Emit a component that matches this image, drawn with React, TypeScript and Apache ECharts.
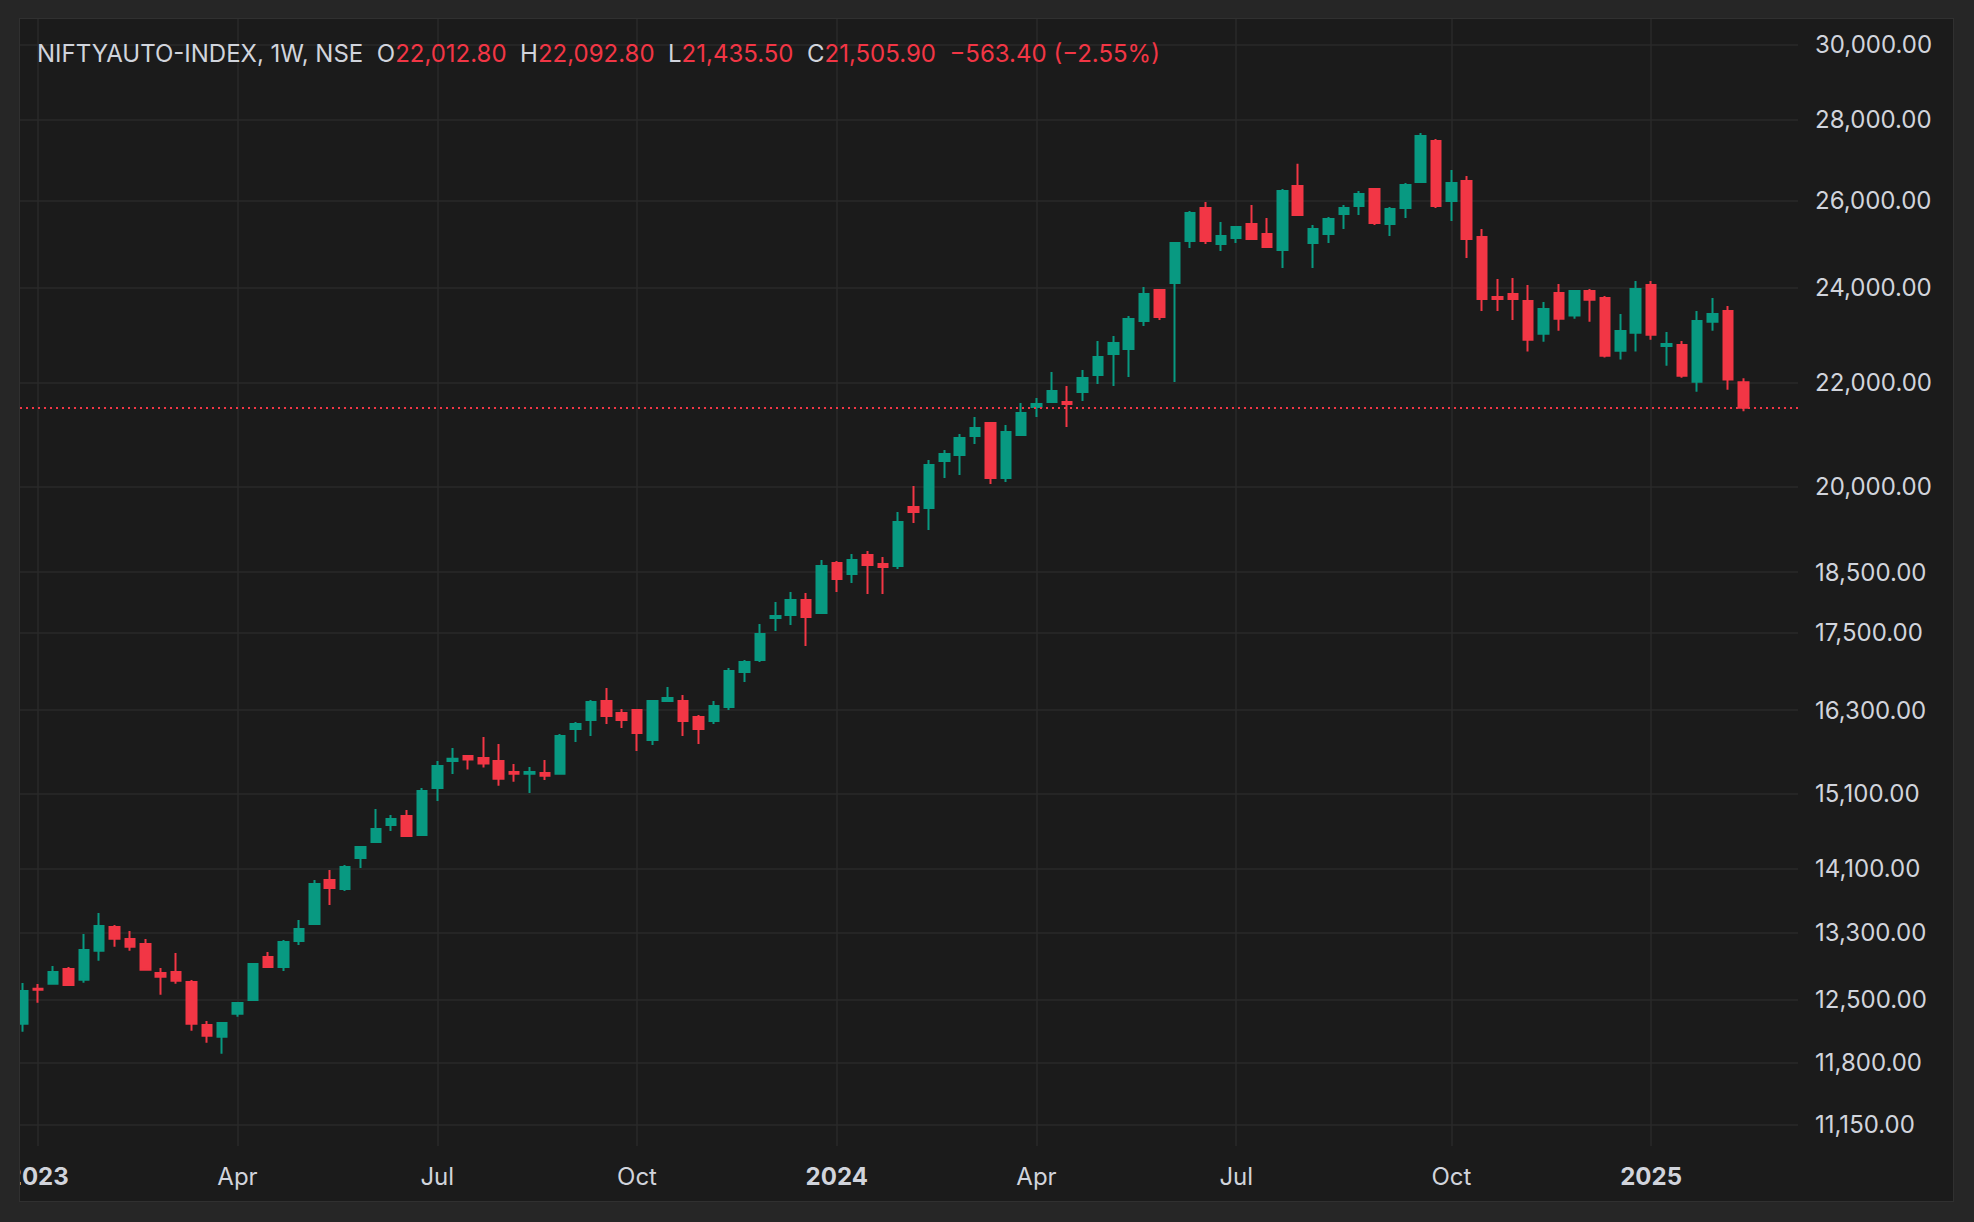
import React, { useEffect, useRef } from 'react';
import * as echarts from 'echarts';

// Weekly candles, index 0 = week of 26 Dec 2022 ... index 112 = week of 17 Feb 2025
const opens = [
  12231, 12630, 12688, 12860, 12735, 13078, 13365, 13218, 13158, 12813,
  12825, 12708, 12217, 12087, 12344, 12500, 13002, 12884, 13194, 13401,
  13952, 13838, 14236, 14447, 14673, 14795, 14539, 15180, 15560, 15632,
  15603, 15560, 15404, 15380, 15390, 15380, 16023, 16156, 16439, 16260,
  16305, 15862, 16439, 16439, 16200, 16141, 16349, 16881, 17068, 17738,
  17787, 18033, 17819, 18655, 18468, 18792, 18638, 18604, 19637, 19619,
  20482, 20595, 20957, 21208, 20166, 20975, 21520, 21618, 21618, 21817,
  22160, 22590, 22696, 23285, 23956, 24110, 25055, 25824, 24987, 25124,
  25449, 25216, 24850, 26350, 25010, 25216, 25683, 25872, 26278, 25449,
  25824, 26446, 27459, 25990, 26471, 25147, 23803, 23868, 23716, 23016,
  23890, 23399, 23934, 23781, 22660, 23037, 24066, 22758, 22777, 22024,
  23269, 23497, 22012.8,
];
const highs = [
  12696, 12685, 12896, 12884, 13279, 13537, 13389, 13316, 13218, 12872,
  13050, 12731, 12262, 12250, 12477, 12931, 13062, 13206, 13451, 13952,
  14081, 14145, 14394, 14890, 14808, 14876, 15179, 15560, 15746, 15640,
  15906, 15804, 15518, 15475, 15575, 15950, 16126, 16455, 16636, 16319,
  16310, 16455, 16652, 16530, 16230, 16439, 16943, 17068, 17640, 18000,
  18166, 18149, 18706, 18689, 18809, 18861, 18758, 19547, 20018, 20501,
  20690, 20995, 21325, 21215, 21169, 21599, 21698, 22221, 21938, 22262,
  22861, 22966, 23392, 24022, 23978, 25033, 25754, 25967, 25495, 25402,
  25895, 25589, 26277, 26894, 25425, 25613, 25895, 26230, 26290, 25848,
  26423, 27661, 27509, 26739, 26593, 25332, 24199, 24221, 24066, 23694,
  24088, 23956, 23978, 23825, 23435, 24154, 24154, 23052, 22861, 23497,
  23779, 23605, 22092.8,
];
const lows = [
  12142, 12469, 12680, 12670, 12700, 12958, 13126, 13078, 12845, 12561,
  12688, 12153, 12020, 11900, 12310, 12490, 12872, 12837, 13146, 13389,
  13636, 13812, 14106, 14440, 14593, 14520, 14526, 15000, 15376, 15437,
  15466, 15212, 15268, 15111, 15292, 15375, 15833, 15921, 16097, 16038,
  15703, 15790, 16430, 15921, 15804, 16097, 16304, 16728, 17036, 17528,
  17625, 17289, 17803, 18166, 18316, 18132, 18132, 18553, 19351, 19228,
  20166, 20221, 20803, 20055, 20092, 20955, 21323, 21610, 21129, 21638,
  21978, 21938, 22120, 23179, 23307, 22019, 24895, 24987, 24827, 25010,
  25078, 24910, 24443, 25650, 24443, 25010, 25332, 25659, 25425, 25170,
  25589, 26440, 25824, 25519, 24668, 23500, 23500, 23307, 22640, 22848,
  23079, 23334, 23270, 22516, 22475, 22640, 22890, 22351, 22105, 21823,
  23078, 21863, 21435.5,
];
const closes = [
  12603, 12619, 12825, 12673, 13086, 13377, 13222, 13126, 12852, 12770,
  12723, 12231, 12098, 12239, 12466, 12919, 12884, 13182, 13340, 13901,
  13850, 14119, 14380, 14620, 14754, 14526, 15137, 15489, 15590, 15579,
  15522, 15310, 15380, 15404, 15352, 15921, 16097, 16424, 16215, 16156,
  15965, 16439, 16485, 16141, 16023, 16364, 16897, 17036, 17479, 17771,
  18033, 17754, 18604, 18383, 18706, 18621, 18587, 19369, 19547, 20407,
  20614, 20918, 21111, 20166, 21033, 21402, 21579, 21837, 21579, 22099,
  22528, 22819, 23328, 23868, 23371, 25010, 25706, 25055, 25170, 25379,
  25101, 24918, 26230, 25659, 25332, 25566, 25824, 26158, 25472, 25801,
  26374, 27585, 25872, 26423, 25101, 23759, 23759, 23759, 22890, 23543,
  23334, 23934, 23744, 22557, 23073, 23978, 22995, 22800, 22146, 23284,
  23433, 22069.3, 21505.9,
];

const yTicks = [11150, 11800, 12500, 13300, 14100, 15100, 16300, 17500, 18500, 20000, 22000, 24000, 26000, 28000, 30000];
const xTickIdx = [1, 14, 27, 40, 53, 66, 79, 93, 106];
const xTickLabels = ['2023', 'Apr', 'Jul', 'Oct', '2024', 'Apr', 'Jul', 'Oct', '2025'];
const yearLabels = ['2023', '2024', '2025'];

const UP = '#089981';
const DOWN = '#f23645';
const TEXT = '#d1d4dc';
const GRID = '#2a2a2a';
const FONT = 'Inter, "Noto Sans", sans-serif';

const fmt = (v: number) =>
  v.toLocaleString('en-US', { minimumFractionDigits: 2, maximumFractionDigits: 2 });

export default function App() {
  const ref = useRef<HTMLDivElement>(null);

  useEffect(() => {
    if (!ref.current) return;
    const chart = echarts.init(ref.current, null, { renderer: 'svg' });
    const candles = opens.map((o, i) => [
      i,
      Math.log(o),
      Math.log(closes[i]),
      Math.log(lows[i]),
      Math.log(highs[i]),
    ]);
    const last = opens.length - 1;
    const lastClose = closes[last];
    const change = lastClose - closes[last - 1];
    const pct = (change / closes[last - 1]) * 100;
    const sign = (v: number) => (v < 0 ? '\u2212' : '+');
    const header =
      '{n|NIFTYAUTO-INDEX, 1W, NSE}  ' +
      '{n|O}{r|' + fmt(opens[last]) + '}  ' +
      '{n|H}{r|' + fmt(highs[last]) + '}  ' +
      '{n|L}{r|' + fmt(lows[last]) + '}  ' +
      '{n|C}{r|' + fmt(lastClose) + '}  ' +
      '{r|' + sign(change) + fmt(Math.abs(change)) + ' (' + sign(pct) + fmt(Math.abs(pct)) + '%)}';

    const yLn = yTicks.map((t) => Math.log(t));

    chart.setOption({
      animation: false,
      backgroundColor: 'transparent',
      grid: { left: 0, right: 155, top: 0, bottom: 55, containLabel: false, outerBoundsMode: 'none' },
      xAxis: {
        type: 'value',
        min: -0.156,
        max: 115.56,
        axisLine: { show: false },
        axisTick: { show: false, customValues: xTickIdx },
        axisLabel: {
          customValues: xTickIdx,
          margin: 18,
          color: TEXT,
          fontSize: 24,
          fontFamily: FONT,
          formatter: (v: number) => {
            const k = xTickIdx.indexOf(Math.round(v));
            if (k < 0) return '';
            const s = xTickLabels[k];
            return yearLabels.includes(s) ? '{b|' + s + '}' : s;
          },
          rich: { b: { fontWeight: 'bold', fontSize: 24, fontFamily: FONT, color: TEXT } },
        },
        splitLine: { show: true, lineStyle: { color: GRID, width: 1.5 } },
      },
      yAxis: {
        type: 'value',
        position: 'right',
        min: 9.2997,
        max: 10.3322,
        scale: true,
        axisLine: { show: false },
        axisTick: { show: false, customValues: yLn },
        axisLabel: {
          customValues: yLn,
          margin: 17,
          align: 'left',
          color: TEXT,
          fontSize: 24,
          fontFamily: FONT,
          formatter: (v: number) => fmt(Math.round(Math.exp(v))),
        },
        splitLine: { show: true, lineStyle: { color: GRID, width: 1.5 } },
      },
      graphic: [
        {
          type: 'text',
          x: 17,
          y: 34,
          z: 100,
          style: {
            text: header,
            verticalAlign: 'middle',
            fontSize: 24,
            fontFamily: FONT,
            fill: TEXT,
            rich: {
              n: { fontSize: 24, fontFamily: FONT, fill: TEXT, color: TEXT },
              r: { fontSize: 24, fontFamily: FONT, fill: DOWN, color: DOWN },
            },
          },
        },
      ],
      series: [
        {
          type: 'candlestick',
          data: candles,
          encode: { x: 0, y: [1, 2, 3, 4] },
          barWidth: 10,
          clip: true,
          itemStyle: {
            color: UP,
            color0: DOWN,
            borderColor: UP,
            borderColor0: DOWN,
            borderWidth: 2,
          },
          markLine: {
            silent: true,
            precision: 10,
            symbol: ['none', 'none'],
            label: { show: false },
            lineStyle: { color: DOWN, type: [2, 4], width: 2 },
            data: [{ yAxis: Math.log(lastClose) }],
          },
        },
      ],
    });
    return () => chart.dispose();
  }, []);

  return (
    <div style={{ position: 'absolute', left: 0, top: 0, width: 1974, height: 1222, background: '#262626' }}>
      <div
        style={{
          position: 'absolute',
          left: 19,
          top: 18,
          width: 1935,
          height: 1184,
          boxSizing: 'border-box',
          border: '1px solid #303030',
          background: '#1b1b1b',
        }}
      />
      <div ref={ref} style={{ position: 'absolute', left: 20, top: 19, width: 1933, height: 1182 }} />
    </div>
  );
}
